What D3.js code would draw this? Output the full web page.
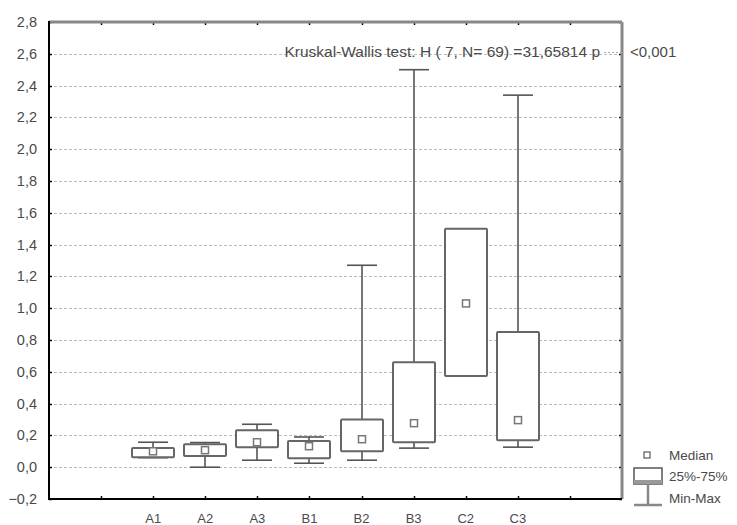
<!DOCTYPE html>
<html>
<head>
<meta charset="utf-8">
<script src="https://cdn.jsdelivr.net/npm/d3@7"></script>
<style>
  body { margin: 0; background: #fff; }
  text { font-family: "Liberation Sans", Arial, sans-serif; fill: #4a4a4a; }
</style>
</head>
<body>
<div id="wrapper"></div>
<script>
// groups and box stats
var groups  = ["A1", "A2", "A3", "B1", "B2", "B3", "C2", "C3"];
var mins    = [0.06, 0.00, 0.044, 0.025, 0.044, 0.12, 0.573, 0.126];
var q1s     = [0.063, 0.07, 0.126, 0.057, 0.10, 0.157, 0.573, 0.17];
var medians = [0.10, 0.107, 0.157, 0.132, 0.176, 0.277, 1.03, 0.296];
var q3s     = [0.12, 0.145, 0.233, 0.164, 0.30, 0.66, 1.50, 0.85];
var maxs    = [0.157, 0.155, 0.27, 0.19, 1.27, 2.50, 1.50, 2.34];
var yTicks  = [-0.2, 0, 0.2, 0.4, 0.6, 0.8, 1.0, 1.2, 1.4, 1.6, 1.8, 2.0, 2.2, 2.4, 2.6, 2.8];
var slots   = ["", "A1", "A2", "A3", "B1", "B2", "B3", "C2", "C3", ""];
var testText = "Kruskal-Wallis test: H ( 7, N= 69) =31,65814 p";
var pText = "<0,001";
var legendLabels = ["Median", "25%-75%", "Min-Max"];

var W = 737, H = 525;
var pLeft = 49, pRight = 622, pTop = 22, pBottom = 499;

var svg = d3.select('#wrapper').append('svg')
  .attr('width', W).attr('height', H);

var y = d3.scaleLinear().domain([-0.2, 2.8]).range([pBottom, pTop]);
var x = d3.scalePoint().domain(d3.range(slots.length + 2)).range([pLeft, pRight]);
var fmt = function(v) { return d3.format('.1f')(v).replace('.', ',').replace('-0,0', '0,0'); };
var yr = function(v) { return Math.round(y(v)) + 0.5; };

// grid
svg.append('g').selectAll('line')
  .data(yTicks.filter(function(d){ return d > -0.2 && d < 2.8; }))
  .enter().append('line')
  .attr('x1', pLeft).attr('x2', pRight)
  .attr('y1', yr).attr('y2', yr)
  .style('stroke', '#bbb').style('stroke-dasharray', '3,2');

// y labels
svg.append('g').selectAll('text').data(yTicks).enter().append('text')
  .attr('x', 37).attr('y', function(d){ return y(d); })
  .attr('dy', '0.35em').attr('text-anchor', 'end')
  .style('font-size', '14.5px')
  .text(fmt);

// y tick marks left and right
[pLeft, pRight].forEach(function(px, i) {
  svg.append('g').selectAll('line').data(yTicks).enter().append('line')
    .attr('x1', px).attr('x2', i ? px - 3 : px + 3)
    .attr('y1', yr).attr('y2', yr)
    .style('stroke', '#000').style('stroke-width', 1.5);
});

// x tick marks top and bottom
var slotIdx = d3.range(1, slots.length + 1);
[pTop, pBottom].forEach(function(py, i) {
  svg.append('g').selectAll('line').data(slotIdx).enter().append('line')
    .attr('x1', function(d){ return Math.round(x(d)) + 0.5; })
    .attr('x2', function(d){ return Math.round(x(d)) + 0.5; })
    .attr('y1', py).attr('y2', i ? py - 3 : py + 3)
    .style('stroke', '#000').style('stroke-width', 1.5);
});

// x labels
svg.append('g').selectAll('text').data(slots).enter().append('text')
  .attr('x', function(d, i){ return x(i + 1); })
  .attr('y', 518).attr('dy', '0.35em').attr('text-anchor', 'middle')
  .style('font-size', '13px')
  .text(function(d){ return d; });

// frame
svg.append('line').attr('x1', pLeft).attr('x2', pRight).attr('y1', pTop).attr('y2', pTop)
  .style('stroke', '#888').style('stroke-width', 3);
svg.append('line').attr('x1', pRight).attr('x2', pRight).attr('y1', pTop).attr('y2', pBottom)
  .style('stroke', '#888').style('stroke-width', 3);
svg.append('line').attr('x1', pLeft).attr('x2', pLeft).attr('y1', pTop - 1).attr('y2', pBottom + 1)
  .style('stroke', '#000').style('stroke-width', 2);
svg.append('line').attr('x1', pLeft - 1).attr('x2', pRight).attr('y1', pBottom).attr('y2', pBottom)
  .style('stroke', '#000').style('stroke-width', 2);

// boxes
var boxW = 42, capW = 30;
var g = svg.append('g').selectAll('g').data(groups).enter().append('g')
  .attr('transform', function(d, i){ return 'translate(' + Math.round(x(i + 2)) + ',0)'; });

g.append('line')
  .attr('x1', 0).attr('x2', 0)
  .attr('y1', function(d, i){ return y(q3s[i]); })
  .attr('y2', function(d, i){ return y(maxs[i]); })
  .style('stroke', '#555').style('stroke-width', 1.6);
g.append('line')
  .attr('x1', 0).attr('x2', 0)
  .attr('y1', function(d, i){ return y(q1s[i]); })
  .attr('y2', function(d, i){ return y(mins[i]); })
  .style('stroke', '#555').style('stroke-width', 1.6);
g.filter(function(d, i){ return maxs[i] > q3s[i]; }).append('line')
  .attr('x1', -capW / 2).attr('x2', capW / 2)
  .attr('y1', function(d){ return y(maxs[groups.indexOf(d)]); })
  .attr('y2', function(d){ return y(maxs[groups.indexOf(d)]); })
  .style('stroke', '#555').style('stroke-width', 1.6);
g.filter(function(d, i){ return mins[i] < q1s[i]; }).append('line')
  .attr('x1', -capW / 2).attr('x2', capW / 2)
  .attr('y1', function(d){ return y(mins[groups.indexOf(d)]); })
  .attr('y2', function(d){ return y(mins[groups.indexOf(d)]); })
  .style('stroke', '#555').style('stroke-width', 1.6);

g.append('rect')
  .attr('x', -boxW / 2).attr('width', boxW)
  .attr('y', function(d, i){ return y(q3s[i]); })
  .attr('height', function(d, i){ return y(q1s[i]) - y(q3s[i]); })
  .attr('rx', 1)
  .style('fill', '#fff').style('stroke', '#666').style('stroke-width', 2);

g.append('rect')
  .attr('x', -3.5).attr('width', 7)
  .attr('y', function(d, i){ return y(medians[i]) - 3.5; })
  .attr('height', 7)
  .style('fill', '#fff').style('stroke', '#777').style('stroke-width', 1.5);

// test annotation
svg.append('line').attr('x1', 604).attr('x2', pRight).attr('y1', 52.5).attr('y2', 52.5)
  .style('stroke', '#aaa').style('stroke-dasharray', '2,2');
svg.append('text').attr('x', 600).attr('y', 52).attr('dy', '0.35em')
  .attr('text-anchor', 'end').style('font-size', '15.5px')
  .text(testText);
svg.append('text').attr('x', 630).attr('y', 52).attr('dy', '0.35em')
  .style('font-size', '15px').text(pText);

// legend
var lg = svg.append('g');
lg.append('rect').attr('x', 644).attr('y', 452).attr('width', 6).attr('height', 6)
  .style('fill', '#fff').style('stroke', '#666').style('stroke-width', 1.3);
lg.append('rect').attr('x', 634).attr('y', 468).attr('width', 28).attr('height', 16)
  .style('fill', '#fff').style('stroke', '#555').style('stroke-width', 1.5);
lg.append('rect').attr('x', 634).attr('y', 480).attr('width', 28).attr('height', 4)
  .style('fill', '#999');
lg.append('line').attr('x1', 648).attr('x2', 648).attr('y1', 484).attr('y2', 505)
  .style('stroke', '#888').style('stroke-width', 2.5);
lg.append('line').attr('x1', 634).attr('x2', 662).attr('y1', 505).attr('y2', 505)
  .style('stroke', '#888').style('stroke-width', 2.5);
lg.selectAll('text').data(legendLabels).enter().append('text')
  .attr('x', 669).attr('y', function(d, i){ return [455, 476, 498][i]; })
  .attr('dy', '0.35em').style('font-size', '13.5px')
  .text(function(d){ return d; });
</script>
</body>
</html>
